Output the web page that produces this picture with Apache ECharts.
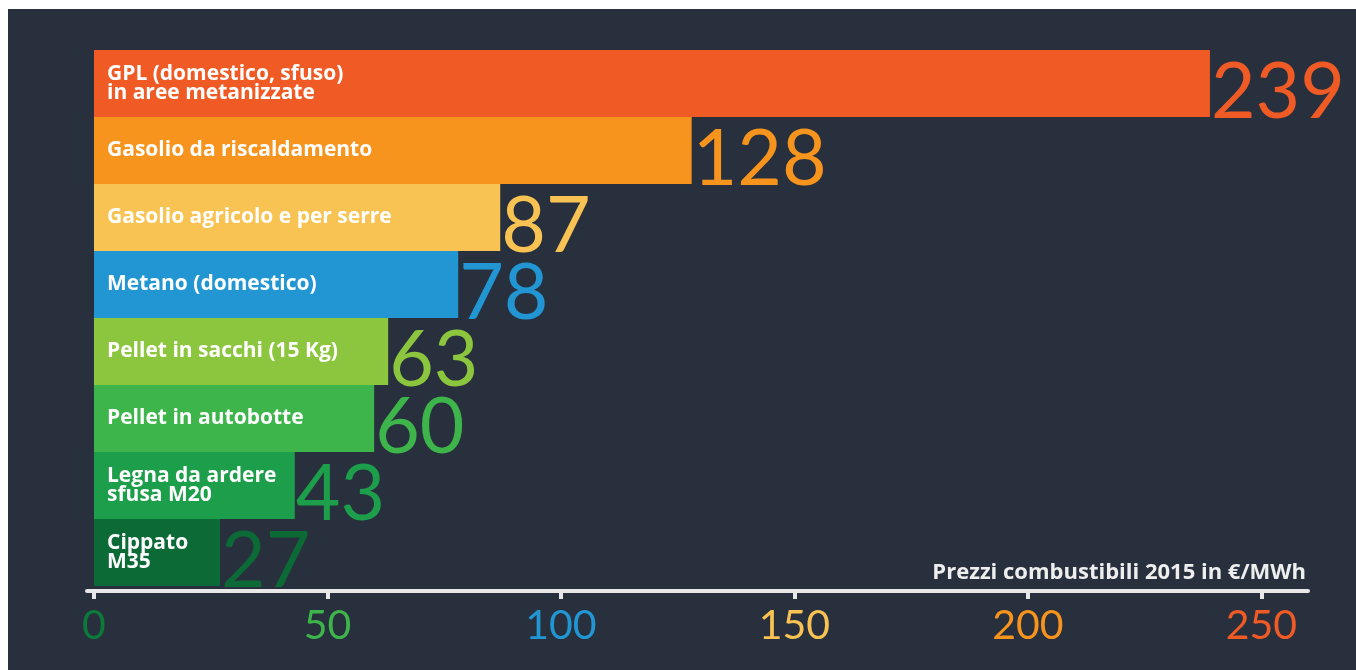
<!DOCTYPE html>
<html>
<head>
<meta charset="utf-8">
<script src="https://cdn.jsdelivr.net/npm/echarts@6/dist/echarts.min.js"></script>
<style>
  html, body { margin: 0; padding: 0; background: #ffffff; }
  #chart { position: absolute; left: 8px; top: 9px; width: 1348px; height: 661px; background: #28303d; }
</style>
</head>
<body>
<div id="chart"></div>
<script>
// Fuel prices 2015, €/MWh
const categories = [
  'GPL (domestico, sfuso)\nin aree metanizzate',
  'Gasolio da riscaldamento',
  'Gasolio agricolo e per serre',
  'Metano (domestico)',
  'Pellet in sacchi (15 Kg)',
  'Pellet in autobotte',
  'Legna da ardere\nsfusa M20',
  'Cippato\nM35'
];
const prices = [239, 128, 87, 78, 63, 60, 43, 27];
const barColors = ['#f05a24', '#f7941d', '#f8c352', '#2196d3', '#8cc63f', '#3db54a', '#1d9e4a', '#0b6a36'];
const tickValues = [0, 50, 100, 150, 200, 250];
const tickColors = ['#0b7a3a', '#3db54a', '#2196d3', '#f8c352', '#f7941d', '#f05a24'];
const unitLabel = 'Prezzi combustibili 2015 in €/MWh';

const chart = echarts.init(document.getElementById('chart'));

const barData = prices.map((v, i) => ({ value: v, itemStyle: { color: barColors[i] } }));
const valueData = prices.map((v, i) => ({
  value: v,
  label: { color: barColors[i] }
}));

chart.setOption({
  backgroundColor: '#28303d',
  animation: false,
  title: {
    text: unitLabel,
    right: 45,
    top: 548,
    textStyle: { color: '#eeeeee', fontFamily: 'Open Sans', fontWeight: 'bold', fontSize: 22 }
  },
  grid: { left: 79, right: 48, top: 41, bottom: 84 },
  xAxis: {
    type: 'value',
    min: -1.5,
    max: 260,
    offset: 5,
    splitLine: { show: false },
    axisLine: { show: true, lineStyle: { color: '#e8e8e8', width: 4 } },
    axisTick: {
      show: true,
      customValues: tickValues,
      length: 8,
      lineStyle: { color: '#e8e8e8', width: 4 }
    },
    axisLabel: {
      customValues: tickValues,
      margin: 14,
      fontFamily: 'Lato',
      fontSize: 41,
      color: (val) => tickColors[tickValues.indexOf(Number(val))] || '#ffffff'
    }
  },
  yAxis: {
    type: 'category',
    data: categories,
    inverse: true,
    show: false
  },
  series: [
    {
      type: 'bar',
      data: barData,
      barCategoryGap: '0%',
      barGap: '-100%',
      label: {
        show: true,
        position: 'insideLeft',
        distance: 13,
        formatter: (p) => p.name,
        color: '#ffffff',
        fontFamily: 'Open Sans',
        fontWeight: 'bold',
        fontSize: 21,
        lineHeight: 19
      }
    },
    {
      type: 'bar',
      data: valueData,
      barCategoryGap: '0%',
      barGap: '-100%',
      itemStyle: { color: 'rgba(0,0,0,0)' },
      silent: true,
      z: 3,
      label: {
        show: true,
        position: 'right',
        distance: 1,
        offset: [0, 10],
        fontFamily: 'Lato',
        fontSize: 77,
        formatter: (p) => String(p.value)
      }
    }
  ]
});
</script>
</body>
</html>
